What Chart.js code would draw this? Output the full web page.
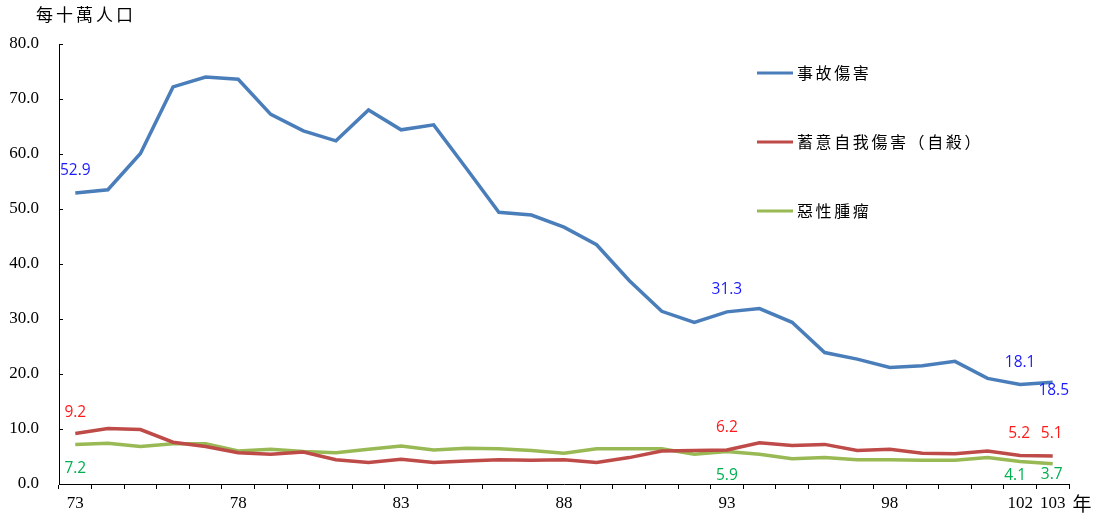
<!DOCTYPE html>
<html><head><meta charset="utf-8">
<script src="https://cdn.jsdelivr.net/npm/chart.js@4.4.1/dist/chart.umd.min.js"></script>
<style>html,body{margin:0;padding:0;background:#fff;} #wrap{width:1099px;height:517px;}</style>
</head><body><div id="wrap"><canvas id="c" width="1099" height="517"></canvas></div>
<script>
// ---- data ----
const years = [73,74,75,76,77,78,79,80,81,82,83,84,85,86,87,88,89,90,91,92,93,94,95,96,97,98,99,100,101,102,103];
const shownYears = [73,78,83,88,93,98,102,103];
const seriesNames = ['事故傷害', '蓄意自我傷害（自殺）', '惡性腫瘤'];
const accident = [52.9,53.5,60.1,72.2,74.0,73.6,67.2,64.2,62.4,68.0,64.4,65.3,57.4,49.4,48.9,46.7,43.5,37.0,31.4,29.4,31.3,31.9,29.4,23.9,22.7,21.2,21.5,22.3,19.2,18.1,18.5];
const suicide  = [9.2,10.1,9.9,7.6,6.8,5.7,5.4,5.8,4.4,3.9,4.5,3.9,4.2,4.4,4.3,4.4,3.9,4.8,6.0,6.1,6.2,7.5,7.0,7.2,6.1,6.3,5.6,5.5,6.0,5.2,5.1];
const cancer   = [7.2,7.4,6.8,7.3,7.3,6.0,6.3,5.9,5.7,6.3,6.9,6.2,6.5,6.4,6.1,5.6,6.4,6.4,6.4,5.4,5.9,5.4,4.6,4.8,4.4,4.4,4.3,4.3,4.8,4.1,3.7];
const yTicks = [0,10,20,30,40,50,60,70,80];
const yTitle = '每十萬人口';
const xUnit = '年';
const labeledYears = [73,93,102,103];

// ---- styles ----
const colors = ['#4A7EBB', '#BE4B48', '#98B954'];
const labelColors = ['#1A1AFF', '#FF1A1A', '#00B050'];
// label offsets [dx, dy] per dataset per labeled year
const labelOffsets = [
  [[0,-22],[0,-22],[0,-22],[1,8]],
  [[0,-21],[0,-22],[-1,-22],[-1,-22]],
  [[0,24],[0,24],[-5,14],[-1,11]]
];

const extras = {
  id: 'extras',
  afterDraw(chart) {
    const ctx = chart.ctx, ca = chart.chartArea;
    const ys = chart.scales.y;
    ctx.save();
    // inner y ticks
    ctx.strokeStyle = '#000'; ctx.lineWidth = 1;
    yTicks.forEach(v => {
      const py = Math.round(ys.getPixelForValue(v)) + 0.5;
      ctx.beginPath(); ctx.moveTo(ca.left, py); ctx.lineTo(ca.left + 4, py); ctx.stroke();
    });
    // title
    ctx.fillStyle = '#000';
    ctx.font = '17px "Noto Sans CJK TC"';
    ctx.textBaseline = 'middle'; ctx.textAlign = 'left';
    [...yTitle].forEach((ch, i) => ctx.fillText(ch, 36 + i * 20, 15));
    // x unit
    ctx.font = '19px "Noto Sans CJK TC"';
    ctx.textAlign = 'center';
    ctx.fillText(xUnit, ca.right + 13, 504);
    // legend
    ctx.font = '16px "Noto Sans CJK TC"';
    ctx.textAlign = 'left';
    const ly = [73, 142, 211];
    chart.data.datasets.forEach((ds, i) => {
      ctx.strokeStyle = ds.borderColor; ctx.lineWidth = 3;
      ctx.beginPath(); ctx.moveTo(757, ly[i]); ctx.lineTo(793, ly[i]); ctx.stroke();
      ctx.fillStyle = '#000';
      [...ds.label].forEach((ch, k) => ctx.fillText(ch, 797 + k * 18.6, ly[i]));
    });
    // data labels
    ctx.font = '15.5px "Open Sans"';
    ctx.textAlign = 'center'; ctx.textBaseline = 'middle';
    chart.data.datasets.forEach((ds, i) => {
      const meta = chart.getDatasetMeta(i);
      labeledYears.forEach((yr, k) => {
        const idx = years.indexOf(yr);
        const pt = meta.data[idx];
        const off = labelOffsets[i][k];
        ctx.fillStyle = labelColors[i];
        ctx.fillText(ds.data[idx].toFixed(1), pt.x + off[0], pt.y + off[1]);
      });
    });
    ctx.restore();
  }
};

new Chart(document.getElementById('c'), {
  type: 'line',
  data: {
    labels: years,
    datasets: [accident, suicide, cancer].map((d, i) => ({
      label: seriesNames[i], data: d, borderColor: colors[i], backgroundColor: colors[i],
      borderWidth: 3.5, pointRadius: 0, tension: 0, fill: false
    }))
  },
  options: {
    responsive: false, animation: false, devicePixelRatio: 1,
    layout: { padding: { top: 44, right: 30, left: 0, bottom: 0 } },
    plugins: { legend: { display: false }, title: { display: false }, tooltip: { enabled: false } },
    scales: {
      x: {
        type: 'category', offset: true,
        grid: { offset: true, drawOnChartArea: false, drawTicks: true, tickLength: 5, color: '#000' },
        border: { display: true, color: '#000', width: 1 },
        ticks: {
          autoSkip: false, maxRotation: 0, padding: 4, color: '#000',
          font: { family: '"Liberation Serif"', size: 17 },
          callback: function(v, i) { const y = years[i]; return shownYears.includes(y) ? String(y) : ''; }
        },
        afterFit: s => { s.height = 33; }
      },
      y: {
        min: 0, max: 80,
        afterBuildTicks: s => { s.ticks = yTicks.map(v => ({ value: v })); },
        grid: { drawOnChartArea: false, drawTicks: false },
        border: { display: true, color: '#000', width: 1 },
        ticks: {
          padding: 20, color: '#000',
          font: { family: '"Liberation Serif"', size: 17 },
          callback: v => Number(v).toFixed(1)
        },
        afterFit: s => { s.width = 59; }
      }
    }
  },
  plugins: [extras]
});
</script></body></html>
